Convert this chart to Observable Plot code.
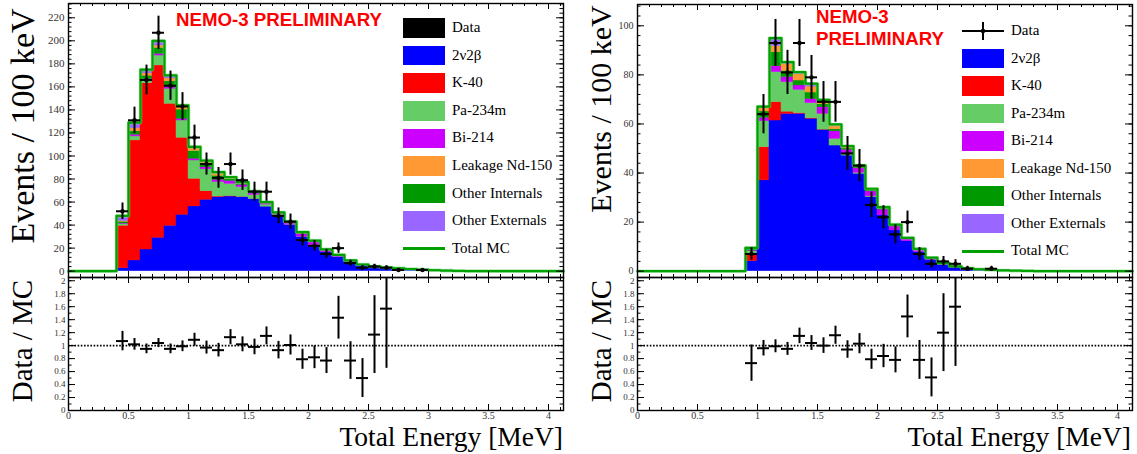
<!DOCTYPE html>
<html><head><meta charset="utf-8">
<script src="https://cdn.jsdelivr.net/npm/d3@7"></script>
<script src="https://cdn.jsdelivr.net/npm/@observablehq/plot@0.6"></script>
<style>
body{margin:0;background:#fff;}
#root{position:relative;width:1137px;height:454px;overflow:hidden;font-family:"Liberation Serif","Times New Roman",serif;color:#000;}
.abs{position:absolute;}
.ytitle{position:absolute;white-space:nowrap;transform:translate(-50%,-50%) rotate(-90deg);line-height:1;}
.xtitle{position:absolute;white-space:nowrap;line-height:0.75;font-size:27.5px;}
.nemo{position:absolute;white-space:nowrap;color:#ff0000;font-family:"Liberation Sans",Arial,sans-serif;font-weight:bold;font-size:18.7px;line-height:22px;}
.leg{position:absolute;white-space:nowrap;font-size:15px;line-height:1;}
.sw{position:absolute;width:42px;height:19.5px;}
</style></head>
<body><div id="root"></div>
<script>
// ---------------- DATA ----------------
const BIN = 0.1;
const X_MAX = 4.125;
const componentNames = ["2ν2β", "K-40", "Pa-234m", "Bi-214", "Other Internals", "Leakage Nd-150", "Other Externals"];
const componentColors = ["#0000ff", "#ff0000", "#66cc66", "#cc00ff", "#009900", "#ff9933", "#9966ff"];
const legendLabels = ["Data", "2ν2β", "K-40", "Pa-234m", "Bi-214", "Leakage Nd-150", "Other Internals", "Other Externals", "Total MC"];
const legendColors = ["#000000", "#0000ff", "#ff0000", "#66cc66", "#cc00ff", "#ff9933", "#009900", "#9966ff", "#00a000"];
const totalColor = "#00a000";

const xTickLabels = [0, 0.5, 1, 1.5, 2, 2.5, 3, 3.5, 4];
const yTicksL = [0, 20, 40, 60, 80, 100, 120, 140, 160, 180, 200, 220];
const yTicksR = [0, 20, 40, 60, 80, 100];
const ratioTicks = [0, 0.2, 0.4, 0.6, 0.8, 1, 1.2, 1.4, 1.6, 1.8, 2];

// Left panel (stacked MC, events / 100 keV)
const binLowL = [0.4,0.5,0.6,0.7,0.8,0.9,1.0,1.1,1.2,1.3,1.4,1.5,1.6,1.7,1.8,1.9,2.0,2.1,2.2,2.3,2.4,2.5,2.6,2.7,2.8,2.9,3.0,3.1,3.2,3.3];
const nu2bL = [2.6,9.3,18.8,29.0,39.4,49.0,56.2,62.0,64.2,64.8,64.2,62.5,56.0,48.4,40.0,29.5,22.3,16.5,12.2,7.8,4.7,3.3,2.6,2.0,1.5,1.0,0.6,0.4,0.2,0.1];
const k40L = [36.8,104.2,144.4,149.6,105.9,66.8,24.0,7.4,0.6,0.3,0.2,0.1,0,0,0,0,0,0,0,0,0,0,0,0,0,0,0,0,0,0];
const paL = [1.5,3.5,2.0,8.6,13.0,15.0,15.9,19.0,12.5,10.7,8.5,3.5,1.8,0.8,0.3,0.3,0.2,0,0,0,0,0,0,0,0,0,0,0,0,0];
const biL = [0.5,1.5,1.5,1.5,1.5,1.5,1.5,1.8,2.0,2.5,2.0,1.5,1.2,1.0,1.8,2.6,2.5,1.5,1.2,0.9,0.6,0.4,0.3,0.2,0.2,0.15,0.1,0.05,0,0];
const oiL = [1.5,3.0,3.0,5.2,5.0,8.0,6.7,3.5,3.5,1.5,1.0,1.2,0.5,0.4,0.5,0.8,1.0,0.6,0.5,0.4,0.3,0.3,0.3,0.2,0.2,0.15,0.1,0.05,0,0];
const leakL = [0.5,2.5,2.0,2.0,2.5,2.0,2.3,1.5,2.0,1.2,1.0,0.3,0.3,0.2,0.2,0.4,0.3,0.2,0.2,0.1,0.1,0.05,0,0,0,0,0,0,0,0];
const oeL = [4.6,5.0,3.3,4.1,2.7,1.7,1.4,0.8,1.2,0.6,0.4,0.2,0.2,0.2,0.2,0.3,0.3,0.2,0.1,0.1,0.1,0.05,0,0,0,0,0,0,0,0];

const dataCenterL = [0.45,0.55,0.65,0.75,0.85,0.95,1.05,1.15,1.25,1.35,1.45,1.55,1.65,1.75,1.85,1.95,2.05,2.15,2.25,2.35,2.45,2.55,2.65,2.75,2.95];
const dataL = [52,131,166,207,161,143,116,93,81,93,79,69,69,48,43,27,22,15,20,7,3,4,3,1,1];
const dataErrL = [7.2,11.4,12.9,14.4,12.7,12,10.8,9.6,9,9.6,8.9,8.3,8.3,6.9,6.6,5.2,4.7,3.9,4.5,2.6,1.7,2,1.7,1,1];

const ratioCenterL = [0.45,0.55,0.65,0.75,0.85,0.95,1.05,1.15,1.25,1.35,1.45,1.55,1.65,1.75,1.85,1.95,2.05,2.15,2.25,2.35,2.45,2.55,2.65];
const ratioL = [1.07,1.02,0.95,1.04,0.95,0.99,1.09,0.97,0.93,1.13,1.02,0.98,1.15,0.93,1.01,0.79,0.82,0.77,1.43,0.77,0.5,1.17,1.57];
const ratioErrL = [0.15,0.09,0.075,0.07,0.075,0.083,0.1,0.1,0.105,0.117,0.115,0.12,0.138,0.135,0.155,0.155,0.175,0.2,0.33,0.29,0.3,0.6,0.92];

// Right panel
const binLowR = [0.9,1.0,1.1,1.2,1.3,1.4,1.5,1.6,1.7,1.8,1.9,2.0,2.1,2.2,2.3,2.4,2.5,2.6,2.7,2.8,2.9,3.0,3.1,3.2];
const nu2bR = [4.1,37.0,61.4,64.1,64.1,62.1,57.6,51.2,47.1,39.7,30.2,22.7,16.6,12.2,7.8,4.6,2.7,1.6,1.0,0.6,0.4,0.3,0.2,0.1];
const k40R = [3.0,13.5,7.5,0.9,0.3,0.2,0.1,0,0,0,0,0,0,0,0,0,0,0,0,0,0,0,0,0];
const paR = [1.0,10.6,12.2,12.0,9.5,6.2,6.4,2.7,0.8,0.4,0.3,0,0,0,0,0,0,0,0,0,0,0,0,0];
const biR = [0.3,1.4,2.4,2.1,1.8,1.7,2.7,3.1,1.6,1.8,2.0,2.4,1.6,0.9,0.8,0.5,0.3,0.2,0.1,0.1,0,0,0,0];
const oiR = [0.6,2.6,5.7,2.5,2.0,2.6,1.2,0.8,0.5,0.4,0.5,0.5,0.5,0.3,0.3,0.2,0.2,0.2,0.1,0.1,0.1,0,0,0];
const leakR = [0.3,1.5,2.5,2.8,2.5,2.4,1.4,1.4,0.8,0.6,0.4,0.3,0.2,0.1,0.1,0.1,0.05,0,0,0,0,0,0,0];
const oeR = [0.2,0.5,3.3,0.8,0.9,1.2,0.4,0.6,0.2,0.2,0.2,0.2,0.1,0.1,0.1,0.1,0.05,0,0,0,0,0,0,0];

const dataCenterR = [0.95,1.05,1.15,1.25,1.35,1.45,1.55,1.65,1.75,1.85,1.95,2.05,2.15,2.25,2.35,2.45,2.55,2.65,2.75,2.95];
const dataR = [7,64,93,81,93,79,69,69,48,43,27,22,15,20,7,3,4,3,1,1];
const dataErrR = [2.6,8,9.6,9,9.6,8.9,8.3,8.3,6.9,6.6,5.2,4.7,3.9,4.5,2.6,1.7,2,1.7,1,1];

const ratioCenterR = [0.95,1.05,1.15,1.25,1.35,1.45,1.55,1.65,1.75,1.85,1.95,2.05,2.15,2.25,2.35,2.45,2.55,2.65];
const ratioR = [0.73,0.96,0.99,0.95,1.15,1.04,1.0,1.16,0.94,1.03,0.79,0.84,0.78,1.45,0.78,0.51,1.2,1.6];
const ratioErrR = [0.28,0.12,0.1,0.1,0.12,0.115,0.12,0.14,0.135,0.155,0.155,0.18,0.2,0.33,0.3,0.3,0.6,0.92];

// ---------------- HELPERS ----------------
const root = document.getElementById("root");
const FONT = "'Liberation Serif','Times New Roman',serif";

function stackRows(binLow, comps) {
  const rows = [];
  binLow.forEach((lo, i) => {
    let acc = 0;
    comps.forEach((vals, j) => {
      const v = vals[i];
      if (v > 0) rows.push({x1: lo, x2: +(lo + BIN).toFixed(3), y1: acc, y2: acc + v, name: componentNames[j]});
      acc += v;
    });
  });
  return rows;
}
function totalLine(binLow, comps) {
  const pts = [{x: 0, y: 0}];
  binLow.forEach((lo, i) => pts.push({x: lo, y: d3.sum(comps, c => c[i])}));
  pts.push({x: +(binLow[binLow.length - 1] + BIN).toFixed(3), y: 0});
  pts.push({x: X_MAX, y: 0});
  return pts;
}
function innerTicks(W, H, xMaj, xMin, yMaj, yMin, xl, yl) {
  const st = {stroke: "#000", strokeWidth: 1};
  return [
    Plot.tickX(xMin, {x: d => d, ...st, insetTop: H - xl[1]}),
    Plot.tickX(xMin, {x: d => d, ...st, insetBottom: H - xl[1]}),
    Plot.tickX(xMaj, {x: d => d, ...st, insetTop: H - xl[0]}),
    Plot.tickX(xMaj, {x: d => d, ...st, insetBottom: H - xl[0]}),
    Plot.tickY(yMin, {y: d => d, ...st, insetRight: W - yl[1]}),
    Plot.tickY(yMin, {y: d => d, ...st, insetLeft: W - yl[1]}),
    Plot.tickY(yMaj, {y: d => d, ...st, insetRight: W - yl[0]}),
    Plot.tickY(yMaj, {y: d => d, ...st, insetLeft: W - yl[0]})
  ];
}
const xMinor = d3.range(0, X_MAX, BIN).map(d => +d.toFixed(2));

function topPlot(o) {
  const W = o.width - o.ml - o.mr, H = o.height - o.mt - o.mb;
  const rows = stackRows(o.binLow, o.comps);
  const tl = totalLine(o.binLow, o.comps);
  const yMinor = d3.range(0, o.ydom[1], 4);
  const data = o.dataC.map((c, i) => ({c, v: o.data[i], e: o.err[i]}));
  return Plot.plot({
    width: o.width, height: o.height,
    marginLeft: o.ml, marginRight: o.mr, marginTop: o.mt, marginBottom: o.mb,
    x: {domain: [0, X_MAX], axis: null},
    y: {domain: o.ydom, axis: null},
    color: {domain: componentNames, range: componentColors},
    style: {fontFamily: FONT, background: "transparent", color: "#333", overflow: "visible"},
    marks: [
      Plot.rect(rows, {x1: "x1", x2: "x2", y1: "y1", y2: "y2", fill: "name", stroke: "name", strokeWidth: 0.4}),
      Plot.line(tl, {x: "x", y: "y", curve: "step-after", stroke: "#7fdc7f", strokeWidth: 3.6, strokeOpacity: 0.6}),
      Plot.line(tl, {x: "x", y: "y", curve: "step-after", stroke: totalColor, strokeWidth: 2.2}),
      Plot.ruleX(data, {x: "c", y1: d => d.v - d.e, y2: d => d.v + d.e, stroke: "#000", strokeWidth: 2}),
      Plot.ruleY(data, {y: "v", x1: d => d.c - BIN / 2, x2: d => d.c + BIN / 2, stroke: "#000", strokeWidth: 2}),
      Plot.dot(data, {x: "c", y: "v", r: 2.2, fill: "#000"}),
      ...innerTicks(W, H, xTickLabels, xMinor, o.yTicks, yMinor, [6, 3], [7, 3.5]),
      Plot.axisY(o.yTicks, {tickSize: 0, tickPadding: 4, fontSize: o.fs, label: null, tickFormat: d => String(d)}),
      Plot.frame({stroke: "#000", strokeWidth: 1.4})
    ]
  });
}

function ratioPlot(o) {
  const W = o.width - o.ml - o.mr, H = o.height - o.mt - o.mb;
  const pts = o.c.map((c, i) => ({c, v: o.v[i], e: o.e[i]}));
  const rMinor = d3.range(0, 2.05, 0.1).map(d => +d.toFixed(2));
  return Plot.plot({
    width: o.width, height: o.height,
    marginLeft: o.ml, marginRight: o.mr, marginTop: o.mt, marginBottom: o.mb,
    x: {domain: [0, X_MAX]},
    y: {domain: [0, 2.05]},
    style: {fontFamily: FONT, background: "transparent", color: "#333", overflow: "visible"},
    marks: [
      Plot.ruleY([1], {stroke: "#000", strokeWidth: 1.6, strokeDasharray: "1.6,1.6"}),
      Plot.ruleX(pts, {x: "c", y1: d => d.v - d.e, y2: d => d.v + d.e, stroke: "#000", strokeWidth: 2, clip: true}),
      Plot.ruleY(pts, {y: "v", x1: d => d.c - BIN / 2, x2: d => d.c + BIN / 2, stroke: "#000", strokeWidth: 2}),
      ...innerTicks(W, H, xTickLabels, xMinor, ratioTicks, rMinor, [6, 3], [7, 3.5]),
      Plot.axisX(xTickLabels, {tickSize: 0, tickPadding: 1, fontSize: 10, label: null, tickFormat: d => String(d)}),
      Plot.axisY(ratioTicks, {tickSize: 0, tickPadding: 3, fontSize: 9, label: null, tickFormat: d => String(d)}),
      Plot.frame({stroke: "#000", strokeWidth: 1.4})
    ]
  });
}

function place(el, left, top) {
  el.style.position = "absolute";
  el.style.left = left + "px";
  el.style.top = top + "px";
  root.appendChild(el);
}
function addText(cls, text, css) {
  const d = document.createElement("div");
  d.className = cls;
  d.textContent = text;
  Object.assign(d.style, css);
  root.appendChild(d);
  return d;
}
function legend(x, textX, y0, dy, dataGlyph) {
  legendLabels.forEach((lab, i) => {
    const cy = y0 + i * dy;
    if (i === 0 && dataGlyph) {
      const ns = "http://www.w3.org/2000/svg";
      const s = document.createElementNS(ns, "svg");
      s.setAttribute("width", 44); s.setAttribute("height", 20);
      s.innerHTML = '<line x1="0" y1="10" x2="42" y2="10" stroke="#000" stroke-width="2"/>' +
        '<line x1="21" y1="1" x2="21" y2="19" stroke="#000" stroke-width="2"/>' +
        '<circle cx="21" cy="10" r="2.3" fill="#000"/>';
      s.style.position = "absolute"; s.style.left = x + "px"; s.style.top = (cy - 10) + "px";
      root.appendChild(s);
    } else if (lab === "Total MC") {
      const d = document.createElement("div");
      Object.assign(d.style, {position: "absolute", left: x + "px", top: (cy - 1.5) + "px", width: "42px", height: "3px", background: legendColors[i]});
      root.appendChild(d);
    } else {
      const d = document.createElement("div");
      d.className = "sw";
      Object.assign(d.style, {left: x + "px", top: (cy - 9.75) + "px", background: legendColors[i]});
      root.appendChild(d);
    }
    addText("leg", lab, {left: textX + "px", top: (cy - 8) + "px"});
  });
}

// ---------------- BUILD ----------------
const compsL = [nu2bL, k40L, paL, biL, oiL, leakL, oeL];
const compsR = [nu2bR, k40R, paR, biR, oiR, leakR, oeR];

place(topPlot({width: 568, height: 280, ml: 68, mr: 5, mt: 3, mb: 3, ydom: [-5.5, 232.4],
  binLow: binLowL, comps: compsL, dataC: dataCenterL, data: dataL, err: dataErrL, yTicks: yTicksL, fs: 11}), 0, 0);
place(topPlot({width: 569, height: 280, ml: 69, mr: 5, mt: 4, mb: 3, ydom: [-2.57, 108.68],
  binLow: binLowR, comps: compsR, dataC: dataCenterR, data: dataR, err: dataErrR, yTicks: yTicksR, fs: 10}), 568, 0);
place(ratioPlot({width: 568, height: 177, ml: 68, mr: 5, mt: 0, mb: 44, c: ratioCenterL, v: ratioL, e: ratioErrL}), 0, 277);
place(ratioPlot({width: 569, height: 177, ml: 69, mr: 5, mt: 0, mb: 44, c: ratioCenterR, v: ratioR, e: ratioErrR}), 568, 277);

// axis titles
addText("ytitle", "Events / 100 keV", {left: "23px", top: "126px", fontSize: "34px"});
addText("ytitle", "Events / 100 keV", {left: "601px", top: "109px", fontSize: "30px"});
addText("ytitle", "Data / MC", {left: "22px", top: "341px", fontSize: "29px"});
addText("ytitle", "Data / MC", {left: "601px", top: "341px", fontSize: "29px"});
addText("xtitle", "Total Energy [MeV]", {right: (1137 - 563) + "px", top: "426.5px"});
addText("xtitle", "Total Energy [MeV]", {right: (1137 - 1131) + "px", top: "426.5px"});

// preliminary labels
addText("nemo", "NEMO-3 PRELIMINARY", {left: "176px", top: "9px"});
addText("nemo", "NEMO-3", {left: "816px", top: "6px"});
addText("nemo", "PRELIMINARY", {left: "816px", top: "28px"});

// legends
legend(403, 452, 28, 27.6, false);
legend(962, 1011, 31, 27.5, true);
</script>
</body></html>
